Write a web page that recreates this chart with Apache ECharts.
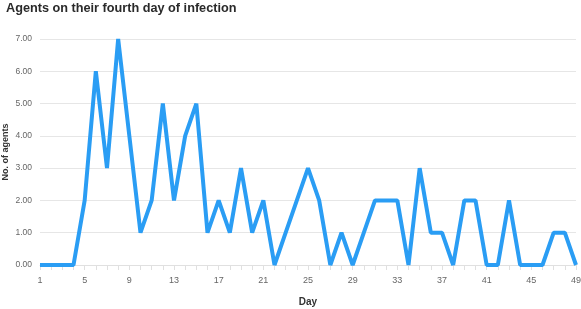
<!DOCTYPE html>
<html><head><meta charset="utf-8">
<script src="https://cdn.jsdelivr.net/npm/echarts@6/dist/echarts.min.js"></script>
<style>html,body{margin:0;padding:0;background:#fff}#c{width:581px;height:309px}</style>
</head><body><div id="c"></div>
<script>
const days = Array.from({length:49},(_,i)=>String(i+1));
const agents = [0,0,0,0,2,6,3,7,4,1,2,5,2,4,5,1,2,1,3,1,2,0,1,2,3,2,0,1,0,1,2,2,2,0,3,1,1,0,2,2,0,0,2,0,0,0,1,1,0];
const yTicks = [0,1,2,3,4,5,6,7];
const chart = echarts.init(document.getElementById('c'));
chart.setOption({
  animation:false,
  title:{text:'Agents on their fourth day of infection',left:1,top:-3,
    textStyle:{fontFamily:'Liberation Sans',fontSize:12.7,fontWeight:'bold',color:'#2a2a2a'}},
  grid:{left:40,right:5,top:39,bottom:44,containLabel:false,outerBoundsMode:'none'},
  xAxis:{type:'category',data:days,boundaryGap:false,name:'Day',nameLocation:'middle',nameGap:32,nameMoveOverlap:false,
    nameTextStyle:{fontFamily:'Liberation Sans',fontSize:10,fontWeight:'bold',color:'#333'},
    axisLine:{lineStyle:{color:'#e0e0e0'}},
    axisTick:{interval:0,length:5,lineStyle:{color:'#e0e0e0'}},
    axisLabel:{interval:3,fontFamily:'Liberation Sans',fontSize:9,color:'#666',margin:11}},
  yAxis:{type:'value',min:0,max:7,interval:1,name:'No. of agents',nameLocation:'middle',nameGap:30,nameMoveOverlap:false,
    nameTextStyle:{fontFamily:'Liberation Sans',fontSize:9,fontWeight:'bold',color:'#333'},
    axisLine:{show:false},axisTick:{show:false},
    splitLine:{lineStyle:{color:'#e6e6e6'}},
    axisLabel:{formatter:v=>v.toFixed(2),fontFamily:'Liberation Sans',fontSize:8.5,color:'#666',margin:8}},
  series:[{type:'line',data:agents,showSymbol:false,symbol:'none',
    lineStyle:{width:4,color:'#2a9df4'},itemStyle:{color:'#2a9df4'}}]
});
</script></body></html>
